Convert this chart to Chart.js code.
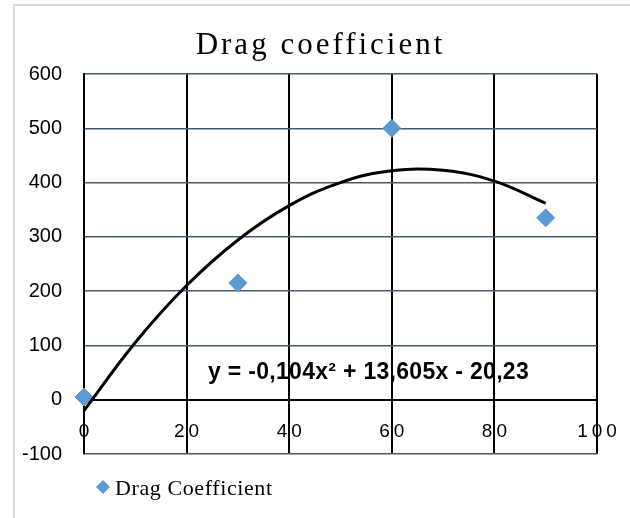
<!DOCTYPE html>
<html>
<head>
<meta charset="utf-8">
<script src="https://cdn.jsdelivr.net/npm/chart.js@4"></script>
<style>
  html, body { margin: 0; padding: 0; background: #fff; }
  #wrap { position: relative; width: 630px; height: 518px; overflow: hidden; }
  #frame { position: absolute; left: 13px; top: 4px; width: 700px; height: 600px; border: 2px solid #d9d9d9; }
  #chart { position: absolute; left: 0; top: 0; }
</style>
</head>
<body>
<div id="wrap">
  <div id="frame"></div>
  <canvas id="chart" width="630" height="518"></canvas>
</div>
<script>
const chartTitle = "Drag coefficient";
const seriesLabel = "Drag Coefficient";
const angles = [0, 30, 60, 90];
const dragValues = [5, 215, 500, 335];

// trendline
const trendX = [0, 10, 20, 30, 40, 50, 60, 70, 80, 90];
const trendY = [-20.2, 105.4, 210.3, 294.3, 357.6, 400.0, 421.7, 422.5, 402.6, 361.8];
const trendLabel = "y = -0,104x² + 13,605x - 20,23";

const xTicks = [0, 20, 40, 60, 80, 100];
const yMin = -100, yMax = 600, yStep = 100;

const pointColor = "#5b9bd5";
const gridSlate = "#4a5870";

const extraText = {
    id: "extraText",
    afterDraw(chart) {
        const ctx = chart.ctx;
        const xs = chart.scales.x;
        ctx.save();

        // title
        ctx.fillStyle = "#000";
        ctx.font = "31px 'Liberation Serif', 'Times New Roman', serif";
        ctx.letterSpacing = "3px";
        ctx.textAlign = "center";
        ctx.textBaseline = "alphabetic";
        ctx.fillText(chartTitle, 319 + 1.5, 54);

        // x tick labels, spaced like the original
        ctx.font = "19px 'Liberation Sans', Arial, sans-serif";
        ctx.letterSpacing = "4px";
        ctx.textBaseline = "middle";
        xTicks.forEach(v => {
            ctx.fillText(String(v), xs.getPixelForValue(v) + 2, 432);
        });

        // trendline equation
        ctx.letterSpacing = "0.3px";
        ctx.font = "bold 23px 'Liberation Sans', Arial, sans-serif";
        ctx.textAlign = "left";
        ctx.textBaseline = "alphabetic";
        ctx.fillText(trendLabel, 208, 379);

        // legend
        const lx = 103, ly = 487, r = 7;
        ctx.fillStyle = pointColor;
        ctx.beginPath();
        ctx.moveTo(lx, ly - r);
        ctx.lineTo(lx + r, ly);
        ctx.lineTo(lx, ly + r);
        ctx.lineTo(lx - r, ly);
        ctx.closePath();
        ctx.fill();
        ctx.fillStyle = "#000";
        ctx.font = "22px 'Liberation Serif', 'Times New Roman', serif";
        ctx.letterSpacing = "0.6px";
        ctx.fillText(seriesLabel, 115, 495);

        ctx.restore();
    }
};

new Chart(document.getElementById("chart"), {
    type: "scatter",
    data: {
        datasets: [
            {
                label: seriesLabel,
                data: angles.map((a, i) => ({ x: a, y: dragValues[i] })),
                backgroundColor: pointColor,
                borderColor: pointColor,
                pointStyle: "rectRot",
                pointRadius: 9,
                clip: false,
                order: 1
            },
            {
                label: "Trend",
                data: trendX.map((a, i) => ({ x: a, y: trendY[i] })),
                showLine: true,
                borderColor: "#000",
                borderWidth: 3,
                pointRadius: 0,
                tension: 0.4,
                order: 0
            }
        ]
    },
    options: {
        responsive: false,
        animation: false,
        layout: { padding: { left: 0, top: 74, right: 33, bottom: 64 } },
        plugins: {
            legend: { display: false },
            title: { display: false },
            tooltip: { enabled: false }
        },
        scales: {
            x: {
                type: "linear",
                min: 0,
                max: 100,
                position: { y: 0 },
                ticks: { display: false, stepSize: 20 },
                grid: { color: "#000", lineWidth: 2, drawTicks: false },
                border: { display: true, color: "#000", width: 2 }
            },
            y: {
                min: yMin,
                max: yMax,
                ticks: {
                    stepSize: yStep,
                    padding: 22,
                    color: "#000",
                    font: { family: "'Liberation Sans', Arial, sans-serif", size: 20 }
                },
                grid: { color: gridSlate, lineWidth: 1.5, drawTicks: false },
                border: { display: true, color: "#000", width: 2 },
                afterFit(scale) { scale.width = 84; }
            }
        }
    },
    plugins: [extraText]
});
</script>
</body>
</html>
